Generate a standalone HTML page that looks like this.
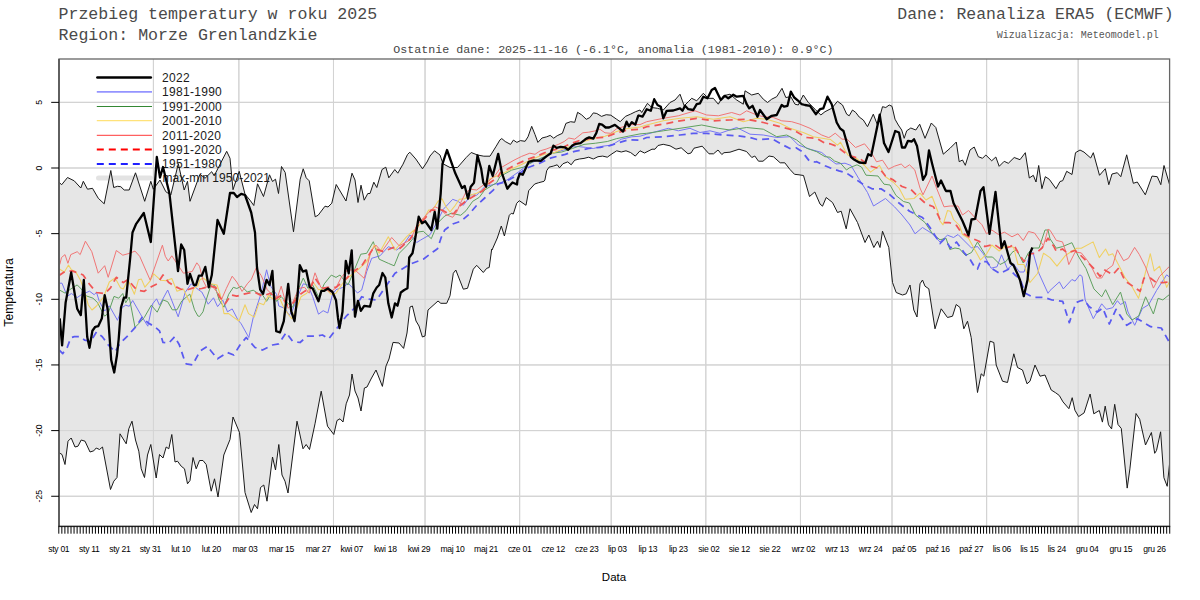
<!DOCTYPE html><html><head><meta charset="utf-8"><style>html,body{margin:0;padding:0;background:#fff;width:1200px;height:600px;overflow:hidden}svg{display:block}</style></head><body>
<svg width="1200" height="600" viewBox="0 0 1200 600">
<rect width="1200" height="600" fill="#fff"/>
<path d="M153.41 59.0V526.5M238.87 59.0V526.5M333.48 59.0V526.5M425.04 59.0V526.5M519.65 59.0V526.5M611.21 59.0V526.5M705.82 59.0V526.5M800.44 59.0V526.5M892.00 59.0V526.5M986.61 59.0V526.5M1078.17 59.0V526.5M59.0 496.25H1169.6M59.0 430.60H1169.6M59.0 364.95H1169.6M59.0 299.30H1169.6M59.0 233.65H1169.6M59.0 168.00H1169.6M59.0 102.35H1169.6" stroke="#d0d0d0" stroke-width="1" fill="none"/>
<defs><clipPath id="pc"><rect x="59" y="59" width="1110.6" height="467.5"/></clipPath></defs><g clip-path="url(#pc)">
<polygon points="59.0,182.5 59.2,182.5 61.7,184.7 67.5,177.5 74.2,180.8 80.8,188.0 83.3,181.3 87.5,189.2 92.5,188.3 98.3,198.3 104.2,203.8 110.8,170.5 113.7,187.5 117.5,186.3 120.8,186.7 124.2,190.0 129.2,190.0 135.5,172.8 144.7,201.3 150.8,181.3 153.3,189.2 160.0,180.0 165.8,191.7 170.8,195.0 178.3,163.7 184.2,190.0 187.5,181.3 190.0,201.3 200.0,174.2 205.0,178.3 211.7,171.7 214.2,175.8 226.7,151.3 230.0,158.3 233.0,189.7 239.2,171.3 245.0,194.2 250.0,200.2 253.8,205.5 257.5,183.8 263.5,196.5 269.5,174.8 272.5,181.5 275.5,179.2 278.5,193.5 281.5,166.5 285.2,172.5 293.5,231.8 300.2,179.2 303.2,168.8 306.2,177.8 309.2,180.8 315.2,216.8 318.2,215.2 325.0,206.2 328.0,207.0 331.8,203.2 336.2,184.5 346.0,201.0 352.0,173.2 355.0,180.0 358.0,202.5 361.0,185.2 364.2,200.2 367.8,193.5 370.0,193.5 373.8,182.2 376.8,187.5 382.0,169.5 385.8,167.2 388.8,177.8 394.8,169.5 397.8,173.2 403.0,164.2 407.5,154.5 409.8,152.2 415.8,159.0 422.5,168.8 427.0,162.0 430.0,156.0 434.5,150.8 440.0,155.0 443.0,163.8 450.0,167.5 457.5,167.5 466.2,157.5 471.2,152.5 477.5,155.0 483.8,156.2 490.0,156.2 496.2,146.2 500.0,139.8 501.8,138.6 505.2,141.5 510.5,144.4 513.4,140.1 516.9,142.4 520.4,140.6 525.1,141.3 528.0,136.8 531.7,126.3 535.0,134.5 537.9,142.4 542.0,138.0 546.7,136.8 550.2,135.4 553.7,138.2 557.2,135.7 562.4,133.3 565.9,123.4 570.6,121.7 574.7,122.3 577.6,112.3 581.7,114.9 586.3,119.3 589.8,117.6 593.3,112.9 596.8,113.5 601.5,116.4 606.2,114.7 610.8,115.2 616.7,119.3 620.2,121.7 625.4,116.4 630.7,114.1 635.3,111.8 640.0,110.0 641.7,112.5 647.5,103.3 651.7,107.5 657.5,108.3 663.3,110.0 670.0,102.5 675.0,100.0 680.0,94.2 684.2,105.8 688.3,101.7 691.7,98.3 696.7,100.8 703.3,93.3 708.3,98.3 713.3,98.3 718.3,104.2 723.3,95.8 730.0,94.2 736.7,100.0 743.3,104.2 745.0,90.8 751.7,95.0 758.3,93.3 763.3,99.2 767.5,102.5 771.7,99.2 776.7,96.7 782.0,88.3 785.8,97.5 790.8,96.7 795.0,104.2 798.3,105.0 803.3,95.0 808.3,102.5 815.0,109.2 820.8,115.0 825.0,111.7 831.7,108.3 837.5,101.3 842.5,105.0 846.7,114.2 849.2,115.8 852.5,110.0 855.8,112.5 859.2,117.0 863.3,120.0 867.5,126.7 873.3,114.2 877.5,125.0 882.5,106.7 885.8,107.5 889.2,105.0 892.0,106.3 895.0,119.2 898.3,125.0 901.7,130.0 904.2,138.3 906.7,130.8 910.8,128.0 915.8,130.0 919.7,124.2 925.0,138.3 931.3,123.0 935.8,127.5 943.3,154.2 950.0,148.3 956.3,142.0 959.2,161.7 962.5,160.0 965.3,165.3 970.0,150.0 974.2,147.0 978.3,156.7 982.5,158.3 985.8,155.0 991.7,160.8 995.8,157.0 999.2,166.3 1004.2,161.3 1008.3,163.3 1014.2,157.5 1020.0,159.7 1025.3,152.7 1029.3,178.0 1033.3,175.3 1036.0,182.0 1038.7,165.5 1041.9,188.7 1045.3,176.7 1049.3,179.3 1056.0,188.7 1060.0,181.5 1062.7,180.7 1066.7,171.3 1072.0,174.5 1075.5,152.7 1080.0,150.0 1084.0,152.1 1090.7,158.0 1093.3,152.7 1099.5,175.3 1105.3,168.7 1108.8,184.7 1112.0,174.0 1117.3,172.7 1120.8,176.7 1126.7,154.8 1133.3,183.3 1137.3,182.0 1145.3,194.8 1152.0,176.1 1157.3,176.7 1160.8,184.7 1164.0,165.5 1169.6,184.7 1169.6,463.4 1167.2,486.3 1163.9,477.7 1160.6,431.8 1156.5,450.5 1154.7,453.3 1151.4,432.5 1145.5,445.0 1139.7,419.3 1136.0,413.5 1129.9,468.9 1127.2,488.1 1121.3,428.5 1118.0,424.5 1114.7,404.3 1111.6,428.9 1108.5,424.8 1105.2,406.1 1102.4,422.1 1099.3,410.5 1093.8,413.8 1090.1,394.0 1084.1,412.9 1078.6,416.6 1074.9,410.2 1072.2,397.7 1068.9,408.7 1063.0,401.9 1059.3,395.5 1055.7,392.8 1051.2,390.0 1045.0,375.0 1040.0,376.2 1035.0,365.0 1030.0,381.2 1027.0,383.8 1022.5,370.0 1017.5,367.5 1013.8,353.8 1007.5,382.5 1002.5,381.2 996.2,365.0 993.8,342.5 990.0,341.2 983.8,376.2 981.2,373.8 977.5,392.5 971.2,337.5 967.5,321.2 963.8,328.8 960.0,307.5 956.2,304.5 952.5,316.2 947.5,317.5 941.2,308.8 935.0,328.8 928.8,288.8 925.0,286.2 922.5,280.0 920.0,283.8 917.0,317.0 913.8,310.0 910.0,285.0 906.2,293.8 902.5,295.0 896.2,292.5 892.5,282.5 888.8,247.5 882.5,231.2 880.0,247.5 877.5,241.2 873.8,247.5 868.8,235.0 865.0,242.5 857.5,222.5 850.0,208.8 846.2,228.8 841.2,211.2 837.5,212.5 832.5,202.5 826.2,197.5 822.5,206.2 820.0,204.0 814.8,192.0 809.5,196.5 803.5,175.5 799.0,174.8 794.5,174.3 790.0,169.5 784.8,162.8 780.2,162.8 773.5,156.8 769.0,156.0 763.0,161.2 758.5,161.2 754.8,156.0 751.8,157.5 746.5,151.5 739.0,149.2 730.0,152.2 724.0,152.7 721.8,154.5 718.0,150.0 713.5,153.8 709.0,153.8 702.2,146.2 694.0,148.2 691.0,153.0 688.0,153.8 681.2,147.8 676.0,149.2 670.0,145.8 663.2,144.3 658.0,145.5 655.0,149.2 652.0,149.2 644.5,153.0 640.0,150.8 635.3,156.1 630.7,152.6 626.0,150.8 621.3,152.0 616.7,150.8 612.0,153.8 607.3,157.2 602.7,156.1 598.0,156.7 593.3,159.0 588.7,157.2 584.0,158.4 579.3,159.0 574.7,160.2 571.2,164.8 567.7,161.9 563.0,163.7 559.5,167.8 557.2,164.8 553.7,166.0 549.0,167.2 546.7,170.7 544.9,180.0 544.0,181.3 538.7,182.7 534.7,184.0 528.7,190.7 526.0,205.3 519.3,200.7 516.7,203.3 513.3,214.0 511.3,213.3 509.3,215.3 504.4,236.0 501.3,226.0 497.3,238.0 492.0,250.0 491.7,249.2 489.2,267.5 486.7,268.3 483.3,272.5 476.7,265.3 473.3,269.2 467.5,288.3 463.3,289.2 455.8,270.0 453.3,273.3 450.0,295.8 446.7,303.3 440.8,303.3 438.0,301.0 428.0,310.0 425.0,336.0 422.4,337.0 419.0,326.0 416.0,321.0 412.4,306.0 410.0,307.0 407.0,333.0 403.6,348.4 399.0,343.0 393.0,342.4 389.0,359.0 386.0,366.0 382.4,386.4 376.0,370.0 371.0,379.0 367.0,387.0 364.4,388.0 361.0,411.0 358.0,398.0 355.0,391.0 352.0,374.0 349.5,395.0 346.2,403.8 343.0,422.0 340.0,418.8 337.0,420.5 333.8,434.5 327.5,426.2 321.2,391.2 315.0,423.8 309.5,449.5 306.2,444.5 303.0,448.8 297.0,421.2 288.0,493.0 285.0,481.2 282.0,475.0 278.8,444.5 275.5,470.0 272.5,457.0 267.0,501.2 263.8,485.0 260.5,487.5 257.5,508.8 254.5,504.5 251.2,512.5 245.0,492.5 239.5,432.5 233.0,417.0 230.0,439.5 223.8,455.0 218.0,497.0 214.5,478.8 211.2,491.2 206.2,464.5 203.0,460.5 199.5,460.5 196.2,468.8 193.0,457.5 190.0,480.5 187.5,483.8 184.5,468.8 181.2,466.2 177.5,461.2 175.0,462.0 171.8,434.5 168.8,448.8 166.2,447.0 163.0,458.0 159.5,454.5 156.2,478.0 150.8,444.5 147.5,455.0 144.5,477.5 141.2,468.8 138.8,451.2 135.5,440.0 132.0,421.2 128.8,428.8 126.2,443.8 120.0,433.8 117.0,477.5 113.8,481.2 110.5,489.5 102.5,447.0 99.5,449.5 96.2,448.0 93.8,450.8 90.0,452.0 85.0,441.2 81.2,440.0 78.0,446.2 75.0,447.0 71.2,438.0 68.0,441.2 65.0,464.5 62.0,454.5 59.5,453.0 59.0,453.0" fill="#e6e6e6" stroke="none"/>
<path d="M153.41 59V526.5M238.87 59V526.5M333.48 59V526.5M425.04 59V526.5M519.65 59V526.5M611.21 59V526.5M705.82 59V526.5M800.44 59V526.5M892.00 59V526.5M986.61 59V526.5M1078.17 59V526.5M59 496.25H1169.6M59 430.60H1169.6M59 364.95H1169.6M59 299.30H1169.6M59 233.65H1169.6M59 168.00H1169.6M59 102.35H1169.6" stroke="#d3d3d3" stroke-width="1" fill="none"/>
</g>
<path d="M97.4 77.5H150.8" stroke="#000" stroke-width="2.6" stroke-linecap="round" fill="none"/>
<text x="162" y="81.8" font-family="Liberation Sans" font-size="12" letter-spacing="0.3" fill="#1a1a1a">2022</text>
<path d="M96.8 91.8H152" stroke="#9494ff" stroke-width="1.8" fill="none"/>
<text x="162" y="96.1" font-family="Liberation Sans" font-size="12" letter-spacing="0.3" fill="#1a1a1a">1981-1990</text>
<path d="M96.8 106.5H152" stroke="#338833" stroke-width="1.0" fill="none"/>
<text x="162" y="110.8" font-family="Liberation Sans" font-size="12" letter-spacing="0.3" fill="#1a1a1a">1991-2000</text>
<path d="M96.8 120.7H152" stroke="#ffe27a" stroke-width="1.3" fill="none"/>
<text x="162" y="125.0" font-family="Liberation Sans" font-size="12" letter-spacing="0.3" fill="#1a1a1a">2001-2010</text>
<path d="M96.8 135.35H152" stroke="#ff6060" stroke-width="1.1" fill="none"/>
<text x="162" y="139.7" font-family="Liberation Sans" font-size="12" letter-spacing="0.3" fill="#1a1a1a">2011-2020</text>
<path d="M96.8 149.5H152" stroke="#ff0000" stroke-width="2" stroke-dasharray="7 5" fill="none"/>
<text x="162" y="153.8" font-family="Liberation Sans" font-size="12" letter-spacing="0.3" fill="#1a1a1a">1991-2020</text>
<path d="M96.8 164.0H152" stroke="#2020ff" stroke-width="2" stroke-dasharray="7 5" fill="none"/>
<text x="162" y="168.3" font-family="Liberation Sans" font-size="12" letter-spacing="0.3" fill="#1a1a1a">1951-1980</text>
<path d="M98.5 178.1H150.5" stroke="#e3e3e3" stroke-width="5" stroke-linecap="round" fill="none"/>
<text x="162.5" y="182.4" font-family="Liberation Sans" font-size="12" letter-spacing="0.05" fill="#1a1a1a">max-min 1950-2021</text>
<g clip-path="url(#pc)">
<polyline points="59.0,182.5 59.2,182.5 61.7,184.7 67.5,177.5 74.2,180.8 80.8,188.0 83.3,181.3 87.5,189.2 92.5,188.3 98.3,198.3 104.2,203.8 110.8,170.5 113.7,187.5 117.5,186.3 120.8,186.7 124.2,190.0 129.2,190.0 135.5,172.8 144.7,201.3 150.8,181.3 153.3,189.2 160.0,180.0 165.8,191.7 170.8,195.0 178.3,163.7 184.2,190.0 187.5,181.3 190.0,201.3 200.0,174.2 205.0,178.3 211.7,171.7 214.2,175.8 226.7,151.3 230.0,158.3 233.0,189.7 239.2,171.3 245.0,194.2 250.0,200.2 253.8,205.5 257.5,183.8 263.5,196.5 269.5,174.8 272.5,181.5 275.5,179.2 278.5,193.5 281.5,166.5 285.2,172.5 293.5,231.8 300.2,179.2 303.2,168.8 306.2,177.8 309.2,180.8 315.2,216.8 318.2,215.2 325.0,206.2 328.0,207.0 331.8,203.2 336.2,184.5 346.0,201.0 352.0,173.2 355.0,180.0 358.0,202.5 361.0,185.2 364.2,200.2 367.8,193.5 370.0,193.5 373.8,182.2 376.8,187.5 382.0,169.5 385.8,167.2 388.8,177.8 394.8,169.5 397.8,173.2 403.0,164.2 407.5,154.5 409.8,152.2 415.8,159.0 422.5,168.8 427.0,162.0 430.0,156.0 434.5,150.8 440.0,155.0 443.0,163.8 450.0,167.5 457.5,167.5 466.2,157.5 471.2,152.5 477.5,155.0 483.8,156.2 490.0,156.2 496.2,146.2 500.0,139.8 501.8,138.6 505.2,141.5 510.5,144.4 513.4,140.1 516.9,142.4 520.4,140.6 525.1,141.3 528.0,136.8 531.7,126.3 535.0,134.5 537.9,142.4 542.0,138.0 546.7,136.8 550.2,135.4 553.7,138.2 557.2,135.7 562.4,133.3 565.9,123.4 570.6,121.7 574.7,122.3 577.6,112.3 581.7,114.9 586.3,119.3 589.8,117.6 593.3,112.9 596.8,113.5 601.5,116.4 606.2,114.7 610.8,115.2 616.7,119.3 620.2,121.7 625.4,116.4 630.7,114.1 635.3,111.8 640.0,110.0 641.7,112.5 647.5,103.3 651.7,107.5 657.5,108.3 663.3,110.0 670.0,102.5 675.0,100.0 680.0,94.2 684.2,105.8 688.3,101.7 691.7,98.3 696.7,100.8 703.3,93.3 708.3,98.3 713.3,98.3 718.3,104.2 723.3,95.8 730.0,94.2 736.7,100.0 743.3,104.2 745.0,90.8 751.7,95.0 758.3,93.3 763.3,99.2 767.5,102.5 771.7,99.2 776.7,96.7 782.0,88.3 785.8,97.5 790.8,96.7 795.0,104.2 798.3,105.0 803.3,95.0 808.3,102.5 815.0,109.2 820.8,115.0 825.0,111.7 831.7,108.3 837.5,101.3 842.5,105.0 846.7,114.2 849.2,115.8 852.5,110.0 855.8,112.5 859.2,117.0 863.3,120.0 867.5,126.7 873.3,114.2 877.5,125.0 882.5,106.7 885.8,107.5 889.2,105.0 892.0,106.3 895.0,119.2 898.3,125.0 901.7,130.0 904.2,138.3 906.7,130.8 910.8,128.0 915.8,130.0 919.7,124.2 925.0,138.3 931.3,123.0 935.8,127.5 943.3,154.2 950.0,148.3 956.3,142.0 959.2,161.7 962.5,160.0 965.3,165.3 970.0,150.0 974.2,147.0 978.3,156.7 982.5,158.3 985.8,155.0 991.7,160.8 995.8,157.0 999.2,166.3 1004.2,161.3 1008.3,163.3 1014.2,157.5 1020.0,159.7 1025.3,152.7 1029.3,178.0 1033.3,175.3 1036.0,182.0 1038.7,165.5 1041.9,188.7 1045.3,176.7 1049.3,179.3 1056.0,188.7 1060.0,181.5 1062.7,180.7 1066.7,171.3 1072.0,174.5 1075.5,152.7 1080.0,150.0 1084.0,152.1 1090.7,158.0 1093.3,152.7 1099.5,175.3 1105.3,168.7 1108.8,184.7 1112.0,174.0 1117.3,172.7 1120.8,176.7 1126.7,154.8 1133.3,183.3 1137.3,182.0 1145.3,194.8 1152.0,176.1 1157.3,176.7 1160.8,184.7 1164.0,165.5 1169.6,184.7" fill="none" stroke="#1a1a1a" stroke-width="1"/>
<polyline points="59.0,453.0 59.5,453.0 62.0,454.5 65.0,464.5 68.0,441.2 71.2,438.0 75.0,447.0 78.0,446.2 81.2,440.0 85.0,441.2 90.0,452.0 93.8,450.8 96.2,448.0 99.5,449.5 102.5,447.0 110.5,489.5 113.8,481.2 117.0,477.5 120.0,433.8 126.2,443.8 128.8,428.8 132.0,421.2 135.5,440.0 138.8,451.2 141.2,468.8 144.5,477.5 147.5,455.0 150.8,444.5 156.2,478.0 159.5,454.5 163.0,458.0 166.2,447.0 168.8,448.8 171.8,434.5 175.0,462.0 177.5,461.2 181.2,466.2 184.5,468.8 187.5,483.8 190.0,480.5 193.0,457.5 196.2,468.8 199.5,460.5 203.0,460.5 206.2,464.5 211.2,491.2 214.5,478.8 218.0,497.0 223.8,455.0 230.0,439.5 233.0,417.0 239.5,432.5 245.0,492.5 251.2,512.5 254.5,504.5 257.5,508.8 260.5,487.5 263.8,485.0 267.0,501.2 272.5,457.0 275.5,470.0 278.8,444.5 282.0,475.0 285.0,481.2 288.0,493.0 297.0,421.2 303.0,448.8 306.2,444.5 309.5,449.5 315.0,423.8 321.2,391.2 327.5,426.2 333.8,434.5 337.0,420.5 340.0,418.8 343.0,422.0 346.2,403.8 349.5,395.0 352.0,374.0 355.0,391.0 358.0,398.0 361.0,411.0 364.4,388.0 367.0,387.0 371.0,379.0 376.0,370.0 382.4,386.4 386.0,366.0 389.0,359.0 393.0,342.4 399.0,343.0 403.6,348.4 407.0,333.0 410.0,307.0 412.4,306.0 416.0,321.0 419.0,326.0 422.4,337.0 425.0,336.0 428.0,310.0 438.0,301.0 440.8,303.3 446.7,303.3 450.0,295.8 453.3,273.3 455.8,270.0 463.3,289.2 467.5,288.3 473.3,269.2 476.7,265.3 483.3,272.5 486.7,268.3 489.2,267.5 491.7,249.2 492.0,250.0 497.3,238.0 501.3,226.0 504.4,236.0 509.3,215.3 511.3,213.3 513.3,214.0 516.7,203.3 519.3,200.7 526.0,205.3 528.7,190.7 534.7,184.0 538.7,182.7 544.0,181.3 544.9,180.0 546.7,170.7 549.0,167.2 553.7,166.0 557.2,164.8 559.5,167.8 563.0,163.7 567.7,161.9 571.2,164.8 574.7,160.2 579.3,159.0 584.0,158.4 588.7,157.2 593.3,159.0 598.0,156.7 602.7,156.1 607.3,157.2 612.0,153.8 616.7,150.8 621.3,152.0 626.0,150.8 630.7,152.6 635.3,156.1 640.0,150.8 644.5,153.0 652.0,149.2 655.0,149.2 658.0,145.5 663.2,144.3 670.0,145.8 676.0,149.2 681.2,147.8 688.0,153.8 691.0,153.0 694.0,148.2 702.2,146.2 709.0,153.8 713.5,153.8 718.0,150.0 721.8,154.5 724.0,152.7 730.0,152.2 739.0,149.2 746.5,151.5 751.8,157.5 754.8,156.0 758.5,161.2 763.0,161.2 769.0,156.0 773.5,156.8 780.2,162.8 784.8,162.8 790.0,169.5 794.5,174.3 799.0,174.8 803.5,175.5 809.5,196.5 814.8,192.0 820.0,204.0 822.5,206.2 826.2,197.5 832.5,202.5 837.5,212.5 841.2,211.2 846.2,228.8 850.0,208.8 857.5,222.5 865.0,242.5 868.8,235.0 873.8,247.5 877.5,241.2 880.0,247.5 882.5,231.2 888.8,247.5 892.5,282.5 896.2,292.5 902.5,295.0 906.2,293.8 910.0,285.0 913.8,310.0 917.0,317.0 920.0,283.8 922.5,280.0 925.0,286.2 928.8,288.8 935.0,328.8 941.2,308.8 947.5,317.5 952.5,316.2 956.2,304.5 960.0,307.5 963.8,328.8 967.5,321.2 971.2,337.5 977.5,392.5 981.2,373.8 983.8,376.2 990.0,341.2 993.8,342.5 996.2,365.0 1002.5,381.2 1007.5,382.5 1013.8,353.8 1017.5,367.5 1022.5,370.0 1027.0,383.8 1030.0,381.2 1035.0,365.0 1040.0,376.2 1045.0,375.0 1051.2,390.0 1055.7,392.8 1059.3,395.5 1063.0,401.9 1068.9,408.7 1072.2,397.7 1074.9,410.2 1078.6,416.6 1084.1,412.9 1090.1,394.0 1093.8,413.8 1099.3,410.5 1102.4,422.1 1105.2,406.1 1108.5,424.8 1111.6,428.9 1114.7,404.3 1118.0,424.5 1121.3,428.5 1127.2,488.1 1129.9,468.9 1136.0,413.5 1139.7,419.3 1145.5,445.0 1151.4,432.5 1154.7,453.3 1156.5,450.5 1160.6,431.8 1163.9,477.7 1167.2,486.3 1169.6,463.4" fill="none" stroke="#1a1a1a" stroke-width="1"/>
<polyline points="59.5,282.5 59.8,283.2 62.0,283.2 67.3,296.4 71.4,293.5 77.2,297.6 81.3,294.7 89.5,291.2 94.2,294.7 96.5,292.3 99.4,301.7 104.7,311.0 109.3,305.8 117.5,320.3 122.2,307.5 125.7,305.2 129.2,306.3 132.7,300.5 142.0,316.8 147.8,326.2 152.5,304.0 156.6,298.8 159.5,305.2 167.7,290.0 178.2,316.8 185.2,292.3 191.2,283.8 198.8,290.0 201.8,292.0 208.2,304.2 213.5,297.8 217.6,306.6 222.8,300.2 227.5,311.8 232.2,308.9 238.0,320.0 241.2,323.8 248.8,337.5 253.2,317.7 260.8,294.3 266.6,269.8 270.7,286.2 276.5,294.3 278.8,306.0 284.7,308.3 289.3,315.3 292.8,309.5 298.7,294.3 303.3,283.8 308.0,285.0 312.7,296.7 318.5,314.2 323.2,310.7 327.8,313.0 332.5,294.3 336.0,289.7 342.5,287.5 348.3,283.3 357.5,293.0 361.7,290.0 366.7,271.7 371.7,258.3 380.0,255.8 388.3,246.7 396.7,250.0 403.3,245.0 410.0,235.0 416.7,242.5 420.7,240.0 430.0,234.7 436.7,222.7 443.3,209.3 452.7,199.3 458.0,201.3 463.3,205.3 471.3,194.7 476.7,195.3 484.7,186.7 492.7,184.7 500.7,182.7 507.0,180.0 518.7,171.8 529.2,163.7 540.8,159.0 552.5,153.2 563.0,150.2 574.7,146.2 585.2,147.3 593.3,148.5 602.7,146.2 612.0,145.0 621.3,139.2 631.8,136.8 640.0,136.2 646.7,134.2 668.3,128.3 678.3,130.8 690.0,128.3 700.0,132.5 710.0,130.8 720.0,133.3 736.7,127.5 750.0,134.2 763.3,135.0 776.7,137.5 790.0,136.7 798.3,145.0 810.0,149.2 821.7,152.5 826.7,156.7 830.0,159.5 836.0,164.0 845.0,163.2 851.0,165.5 858.5,178.2 867.5,192.5 873.5,206.0 885.5,198.5 894.5,206.8 902.0,215.0 910.0,225.0 915.0,233.8 922.5,227.5 932.5,233.8 940.0,242.0 947.5,235.2 953.5,237.5 958.0,234.5 965.5,242.0 971.5,248.0 977.5,246.5 983.5,254.0 991.0,268.2 997.0,266.8 1001.5,254.8 1007.5,269.0 1013.5,263.8 1019.5,272.0 1024.0,272.0 1030.0,254.0 1033.0,252.5 1039.0,273.5 1048.0,293.3 1050.0,290.5 1059.4,281.9 1063.3,288.9 1071.9,279.5 1075.1,281.1 1079.8,274.8 1082.1,276.4 1085.2,299.9 1093.3,318.7 1101.7,303.8 1106.4,309.3 1112.7,307.7 1117.4,300.7 1120.5,304.6 1125.2,301.5 1128.0,312.0 1134.7,325.3 1142.4,308.5 1148.7,304.6 1156.5,290.5 1166.7,274.8 1169.6,277.2" fill="none" stroke="#7676f4" stroke-width="1.0" stroke-linejoin="round"/>
<polyline points="59.5,290.0 59.8,290.2 65.0,293.1 70.8,289.0 77.2,284.9 81.3,289.0 86.0,295.8 93.0,298.2 97.7,302.8 102.3,312.2 104.7,316.2 108.2,313.3 114.0,296.4 118.7,298.2 122.8,293.5 125.7,302.8 129.2,297.0 135.0,327.3 139.7,322.7 144.3,317.4 151.3,305.2 157.2,312.2 163.0,299.9 167.7,301.7 172.3,309.8 177.0,309.8 181.7,301.1 189.8,294.1 194.5,309.8 198.0,316.2 198.8,316.2 199.5,316.5 203.0,311.8 206.5,299.0 211.2,284.4 214.7,285.6 219.3,300.2 224.0,307.2 228.7,294.3 233.3,287.3 236.8,288.5 241.5,286.2 247.3,292.0 253.2,290.2 257.8,293.2 262.5,294.9 266.6,301.3 273.0,290.8 276.5,301.3 281.2,296.7 287.0,302.5 292.8,307.2 298.7,288.5 303.3,278.0 308.0,288.5 312.7,285.0 318.5,296.7 324.3,283.8 331.3,275.1 336.0,277.4 340.0,275.0 348.0,285.0 355.0,268.3 360.8,254.2 366.7,253.3 373.3,241.7 379.2,259.2 388.3,263.3 394.2,265.8 399.2,253.3 406.7,245.8 413.3,238.3 418.0,232.0 423.3,231.3 431.3,238.7 438.0,222.7 444.7,216.0 451.3,213.3 460.7,215.3 466.0,210.7 472.7,201.3 479.3,197.3 484.7,190.0 490.0,186.7 496.7,182.7 500.0,176.5 511.7,170.1 523.3,167.2 533.8,161.3 544.3,156.7 552.5,153.2 561.8,152.0 572.3,148.5 584.0,144.4 595.7,143.2 607.3,141.5 616.7,138.6 628.3,136.2 640.0,133.9 646.7,133.3 663.3,130.8 680.0,128.3 701.7,125.0 718.3,128.3 730.0,130.0 746.7,127.5 763.3,129.2 776.7,136.7 786.7,135.0 796.7,140.0 806.7,148.3 816.7,151.7 825.0,156.7 830.0,157.2 834.5,161.0 840.5,163.2 846.5,170.0 849.5,167.8 857.0,164.8 861.5,167.0 866.0,175.2 878.0,176.0 884.0,184.2 890.0,185.0 896.0,195.5 903.5,201.5 909.5,203.0 915.5,215.0 925.0,222.5 932.5,233.8 940.0,239.8 946.0,238.2 949.8,249.5 955.0,248.0 959.5,248.8 965.5,255.5 971.5,252.5 977.5,242.0 982.0,249.5 986.5,257.0 992.5,257.0 1000.0,264.5 1006.0,261.5 1012.0,252.5 1016.5,249.5 1023.2,263.0 1028.5,252.5 1033.0,248.0 1039.0,248.0 1045.0,230.0 1048.0,230.0 1050.0,238.8 1056.3,248.2 1062.5,246.6 1071.9,242.7 1078.2,256.0 1086.0,268.6 1093.9,288.9 1101.7,296.8 1105.6,289.7 1112.7,304.6 1120.5,292.1 1126.8,314.0 1132.0,320.0 1138.7,316.0 1145.6,296.8 1153.4,314.0 1158.1,298.3 1162.8,299.9 1169.6,294.4" fill="none" stroke="#5fa05f" stroke-width="1.0" stroke-linejoin="round"/>
<polyline points="59.5,270.0 59.8,269.2 64.4,272.1 68.5,265.1 71.4,269.8 75.5,271.5 80.8,280.8 84.8,292.5 88.3,305.0 92.0,310.0 96.5,306.0 103.5,297.2 109.3,282.0 115.2,277.9 120.4,287.8 123.3,289.0 128.0,279.7 134.4,294.2 138.5,279.7 141.4,279.1 144.9,287.2 150.2,280.8 153.7,273.8 160.7,280.2 165.9,280.8 171.8,278.5 177.0,291.3 183.4,289.0 189.8,302.4 193.3,289.0 198.0,285.5 199.5,280.3 203.0,278.0 211.2,283.8 217.0,285.0 220.5,295.5 224.0,313.6 228.7,313.6 235.7,318.8 239.0,321.0 245.0,304.8 248.5,313.6 254.3,317.1 259.0,303.1 263.7,304.8 268.3,295.5 273.0,299.0 280.0,299.0 284.7,309.5 291.7,318.8 297.5,306.0 301.0,296.7 306.8,293.2 312.7,281.5 318.5,289.7 325.5,288.5 331.3,294.3 336.0,293.2 345.0,280.0 356.7,270.8 366.7,261.7 374.2,245.0 379.2,253.3 388.3,236.7 395.0,250.0 406.7,236.7 414.2,230.0 415.0,232.5 418.0,226.7 424.7,217.3 428.7,210.0 432.7,210.0 438.0,201.3 442.0,198.7 446.0,206.7 450.0,212.0 455.3,205.3 459.3,199.3 464.7,198.7 471.3,194.7 476.7,193.3 484.7,189.3 490.0,178.7 496.7,176.0 500.0,174.8 509.3,170.1 521.0,164.8 533.8,158.4 544.3,154.3 552.5,153.2 563.0,149.1 574.7,145.0 584.0,141.5 593.3,138.6 605.0,136.2 616.7,131.6 626.0,128.7 640.0,126.9 646.7,125.0 663.3,120.8 680.0,118.3 696.7,116.7 713.3,119.2 730.0,116.7 743.3,121.7 756.7,118.3 766.7,119.2 780.0,123.3 790.0,128.3 803.3,132.5 813.3,136.7 828.3,139.2 830.0,139.2 837.5,145.2 840.5,142.2 845.0,150.5 848.0,155.0 857.0,158.8 864.5,165.5 870.5,172.2 879.5,165.5 885.5,176.8 893.0,182.0 899.0,188.0 905.0,199.2 914.0,198.5 920.0,193.2 926.0,200.0 932.0,196.2 938.0,212.0 940.0,221.0 943.0,224.8 947.5,210.5 950.0,211.2 950.5,211.2 953.5,219.5 959.5,225.5 962.5,234.5 968.5,238.2 973.0,246.5 980.5,260.0 986.5,254.0 991.8,245.0 999.2,251.0 1006.0,245.8 1013.5,247.2 1018.0,264.5 1024.0,264.5 1030.0,282.5 1037.5,273.5 1043.5,253.2 1050.0,257.6 1057.0,266.2 1065.7,255.2 1076.6,248.2 1081.3,248.2 1093.1,241.9 1099.3,257.6 1105.6,249.0 1108.7,255.2 1112.7,253.7 1118.9,265.4 1125.2,278.0 1131.5,285.8 1138.5,298.3 1144.0,278.0 1150.3,253.7 1154.2,270.9 1159.6,266.2 1166.7,287.4 1169.6,281.1" fill="none" stroke="#f0d060" stroke-width="1.05" stroke-linejoin="round"/>
<polyline points="59.8,264.5 61.5,257.5 65.0,254.6 67.9,263.3 70.8,254.6 77.2,251.7 80.2,254.6 85.4,241.2 91.8,251.7 98.2,273.2 104.7,265.7 108.2,277.3 116.3,250.5 122.8,255.2 129.2,253.4 135.0,251.1 139.7,256.3 150.2,280.2 162.4,245.2 165.3,256.3 168.2,261.0 171.8,255.8 183.4,273.2 192.2,271.5 196.8,262.8 199.5,266.3 203.0,280.3 206.5,287.3 211.2,285.0 217.0,292.0 221.7,299.0 226.3,288.5 232.2,276.2 236.8,282.1 242.1,291.4 247.3,283.8 251.4,279.2 256.1,268.1 261.3,275.7 267.2,289.7 273.0,295.5 277.7,296.7 281.2,286.2 284.7,299.0 288.2,308.3 292.2,303.7 298.7,288.5 304.5,287.3 309.2,293.2 315.0,272.8 320.8,287.3 324.3,288.5 330.2,292.0 336.0,287.9 341.2,277.5 347.5,270.0 355.0,270.0 364.2,278.3 370.8,251.7 375.8,245.0 381.7,251.7 391.7,237.5 399.2,245.8 410.0,240.0 415.0,230.0 416.7,225.3 423.3,218.0 428.7,212.7 434.7,206.7 440.7,209.3 446.0,214.7 452.7,217.3 456.7,212.0 460.7,202.7 466.0,192.0 471.3,189.3 476.7,190.0 482.0,186.0 486.0,183.3 490.0,180.0 495.3,175.3 500.0,168.3 507.0,164.2 514.0,160.2 521.6,156.4 529.8,153.2 535.0,154.3 540.2,150.8 546.1,149.1 551.3,147.1 558.3,144.4 564.2,141.5 568.8,138.0 574.7,139.2 582.8,132.8 588.7,132.2 594.5,131.0 599.8,129.2 605.0,132.8 610.8,133.3 616.7,128.7 624.8,126.3 631.8,124.6 640.0,124.6 646.7,121.7 663.3,118.3 678.3,115.8 695.0,110.8 706.7,115.0 718.3,115.8 731.7,112.5 740.0,115.0 746.7,110.8 756.7,115.0 763.3,116.7 773.3,117.5 781.7,120.8 791.7,121.7 800.0,124.2 810.0,128.3 821.7,135.0 828.3,137.5 830.0,137.0 835.2,133.2 842.0,139.2 847.2,139.2 855.5,147.5 864.5,143.8 870.5,151.2 876.5,161.8 882.5,160.2 888.5,169.2 894.5,166.2 901.2,164.0 905.0,167.8 909.5,164.8 914.8,170.0 920.0,188.0 923.0,194.8 932.0,176.0 936.5,188.0 944.0,206.8 950.0,206.0 950.5,206.0 958.0,206.0 962.5,215.0 968.5,210.5 976.0,218.8 982.0,224.8 986.5,233.8 991.8,230.0 998.5,234.5 1004.5,232.2 1012.0,236.8 1018.0,233.8 1023.2,240.5 1028.5,231.5 1034.5,233.0 1039.8,240.5 1043.5,245.8 1048.0,229.2 1050.0,230.2 1056.3,240.4 1062.5,241.9 1065.7,251.3 1068.8,264.6 1075.1,252.1 1081.3,252.9 1087.6,260.7 1092.3,268.6 1097.0,278.0 1101.7,278.0 1106.4,270.1 1112.7,265.4 1117.4,249.8 1123.6,260.7 1128.3,258.4 1134.6,247.4 1139.3,254.5 1145.6,267.0 1153.4,288.1 1159.6,276.4 1169.6,266.2" fill="none" stroke="#f07575" stroke-width="1.0" stroke-linejoin="round"/>
<polyline points="59.5,273.8 59.8,275.0 65.0,271.5 72.0,270.9 79.0,273.2 83.1,275.0 89.5,284.3 96.5,292.5 104.7,293.7 110.5,287.8 116.3,277.3 123.3,282.6 128.0,279.7 133.8,286.7 137.3,290.2 144.3,291.3 151.3,286.7 157.2,283.8 163.0,275.0 168.8,282.6 175.8,286.7 180.5,289.0 186.3,290.2 193.3,287.8 198.0,289.0 201.8,288.5 210.0,286.2 215.8,287.3 219.3,296.7 225.2,303.7 231.0,294.9 236.8,296.1 245.0,293.8 254.3,292.0 262.5,296.1 270.7,293.2 275.3,299.0 281.2,295.5 287.0,304.8 292.8,303.7 298.7,295.5 304.5,291.4 310.3,288.5 315.0,278.0 322.0,288.5 327.8,287.3 336.0,287.3 337.5,286.2 347.5,277.5 350.0,274.0 361.7,265.8 373.3,248.3 383.3,251.7 393.3,247.5 400.0,248.3 410.0,239.2 415.0,231.7 416.7,226.7 424.7,218.7 431.3,210.0 442.0,210.0 448.7,214.0 454.0,213.3 460.7,205.3 467.3,200.0 475.3,195.3 482.0,191.3 490.0,182.7 498.0,177.3 500.0,173.0 507.0,169.5 517.5,163.7 526.8,159.6 538.5,155.5 549.0,150.8 560.7,148.5 570.0,143.8 581.7,139.8 593.3,138.0 605.0,137.4 615.5,133.3 626.0,130.4 640.0,129.2 646.7,126.7 663.3,124.2 680.0,120.8 696.7,118.3 713.3,120.8 730.0,120.0 746.7,119.2 763.3,122.5 780.0,126.7 793.3,130.0 806.7,137.5 816.7,138.3 825.0,143.3 830.0,143.8 836.0,146.0 842.0,150.5 848.0,155.0 860.0,158.8 870.5,166.2 879.5,168.5 885.5,176.0 893.0,179.8 902.0,186.5 911.0,189.5 918.5,197.0 926.0,203.8 933.5,206.8 938.0,215.0 940.0,219.5 944.5,222.5 949.0,222.5 956.5,225.5 961.0,232.2 970.0,237.5 979.0,241.2 985.0,246.5 994.0,244.2 1001.5,249.5 1010.5,246.5 1013.5,244.2 1018.0,252.5 1024.0,261.5 1030.0,254.0 1036.0,253.2 1042.0,248.0 1048.0,238.2 1053.9,246.6 1056.3,251.3 1062.5,249.0 1067.2,252.9 1075.1,250.5 1080.5,255.2 1087.6,262.3 1093.9,268.6 1100.1,276.4 1104.8,270.1 1112.7,274.8 1118.9,267.8 1125.2,281.1 1134.6,287.4 1140.1,291.3 1144.0,278.0 1150.3,278.0 1156.5,282.7 1162.8,282.7 1169.6,281.9" fill="none" stroke="#f05555" stroke-width="1.75" stroke-dasharray="7 5" stroke-linejoin="round"/>
<polyline points="59.5,350.0 59.8,350.7 62.7,353.6 67.3,347.2 70.8,337.8 74.3,336.7 80.2,336.7 84.8,340.2 90.7,341.3 96.5,332.0 102.3,336.7 108.2,344.8 115.2,351.8 119.8,343.7 128.0,335.5 137.3,325.0 142.0,317.4 147.8,322.7 154.8,326.8 159.5,330.8 163.0,342.5 168.8,343.1 174.7,336.7 179.3,344.8 184.0,358.8 186.2,363.8 192.5,365.0 200.0,351.2 207.5,346.2 211.2,351.2 217.5,358.8 227.5,352.5 233.8,355.0 240.0,345.0 246.2,337.5 255.0,347.5 262.5,350.0 272.5,345.0 278.8,343.8 286.2,332.5 292.5,341.2 300.0,342.5 307.5,336.2 316.2,336.2 322.5,335.0 328.8,338.8 337.5,327.5 346.2,316.2 355.0,307.5 361.7,296.7 368.3,299.2 376.7,300.0 383.3,290.0 395.0,273.3 410.0,264.2 423.3,259.2 433.3,251.7 437.5,248.8 441.3,237.3 444.7,230.0 452.7,224.0 460.7,221.3 468.7,214.7 476.7,205.3 484.7,198.0 492.7,190.7 496.7,186.0 498.0,184.0 502.7,182.7 510.0,179.3 514.7,176.7 522.7,171.3 523.3,169.5 539.7,163.1 551.3,157.8 565.3,154.3 574.7,151.4 588.7,148.5 600.3,147.3 609.7,145.6 619.0,142.7 628.3,139.8 640.0,140.3 646.7,137.5 663.3,136.7 680.0,135.0 693.3,133.3 706.7,133.3 723.3,135.0 738.3,135.8 750.0,137.5 757.0,139.5 772.0,138.8 781.0,144.0 790.0,148.5 796.0,147.8 802.0,151.5 809.5,161.2 815.5,162.0 816.7,161.7 825.0,165.8 830.0,167.8 839.0,170.8 846.5,173.0 854.0,178.2 863.0,184.2 872.0,188.8 881.0,188.8 890.0,194.8 899.0,203.0 909.5,211.2 914.0,213.5 922.5,217.5 930.0,227.5 940.0,243.5 944.5,239.0 950.5,248.0 956.5,242.0 964.0,252.5 970.0,259.2 974.5,266.8 977.5,269.0 980.5,261.5 986.5,261.5 992.5,269.0 1000.0,273.5 1009.0,269.0 1015.0,275.0 1020.0,278.8 1025.3,293.3 1033.3,297.3 1044.0,297.3 1052.0,300.0 1062.7,301.3 1069.3,322.7 1076.0,302.7 1080.0,301.0 1084.0,300.0 1089.3,306.7 1097.3,312.0 1102.7,308.0 1109.3,324.0 1116.0,309.3 1126.7,325.3 1137.3,318.7 1150.7,326.7 1161.3,328.0 1169.6,342.7" fill="none" stroke="#5a5af0" stroke-width="1.75" stroke-dasharray="7 5" stroke-linejoin="round"/>
<polyline points="59.5,318.8 59.8,319.2 62.1,345.4 65.6,302.8 71.2,272.5 77.2,308.7 80.8,315.1 83.8,280.0 87.2,336.7 89.5,347.8 92.4,330.8 95.3,326.8 98.2,326.2 101.8,318.6 104.7,295.2 107.6,308.7 111.2,360.0 114.2,372.5 117.0,355.0 118.7,339.0 121.0,307.5 123.9,297.6 126.2,297.6 130.0,260.0 132.5,232.5 136.2,223.8 143.8,213.0 150.8,242.0 156.8,157.0 160.0,177.5 163.0,167.0 169.5,193.8 178.0,271.2 181.2,244.5 184.2,250.0 187.5,283.8 190.0,273.8 193.8,285.0 196.0,285.0 198.9,275.7 201.8,275.7 205.3,266.9 208.8,287.3 211.8,275.1 217.5,220.0 223.8,233.8 230.0,193.0 233.8,193.0 237.0,197.0 241.2,193.8 245.0,195.0 251.2,212.5 255.0,232.5 257.0,267.5 260.2,289.7 263.1,293.8 266.6,279.8 269.5,285.0 272.4,271.0 276.2,331.2 280.0,332.5 283.8,321.2 288.2,283.8 291.2,311.2 294.5,321.2 297.5,296.2 299.8,265.2 302.8,271.6 306.2,270.4 309.8,287.3 312.7,288.5 318.5,301.3 321.4,290.8 324.3,290.8 327.8,288.5 332.5,292.0 336.0,300.2 338.0,318.0 339.5,328.0 342.5,311.7 345.8,260.8 348.7,273.3 351.7,250.3 355.0,316.7 358.0,300.8 360.8,310.8 364.2,305.8 370.0,306.7 373.3,293.3 376.7,287.5 379.2,285.0 382.5,273.0 385.3,277.5 388.3,303.3 391.7,317.5 395.0,303.3 397.5,305.8 400.8,292.5 404.2,290.0 407.5,288.3 409.2,257.5 412.5,253.3 414.7,241.7 418.7,216.7 422.0,223.3 425.3,221.3 431.3,230.0 434.7,212.0 437.3,228.7 440.7,193.3 442.5,163.8 447.0,150.0 455.3,173.3 462.0,188.0 464.7,186.0 468.0,198.7 470.7,186.7 474.0,182.7 477.5,155.5 481.2,168.8 483.3,182.7 486.0,186.7 489.3,166.0 492.7,176.0 498.2,153.8 502.0,173.3 507.3,188.7 510.0,185.3 512.5,182.5 517.0,184.5 517.5,180.0 519.8,173.6 522.8,174.8 528.6,161.9 533.8,160.4 540.8,160.8 546.7,156.1 550.8,153.2 553.4,145.6 556.6,147.9 560.7,146.8 564.8,147.3 568.2,149.7 572.3,145.6 575.8,143.8 580.5,143.2 586.3,138.6 589.2,137.4 593.3,138.6 596.2,133.3 599.2,124.0 602.1,124.6 605.6,127.5 609.1,127.5 614.9,124.9 619.0,128.1 623.1,131.6 626.6,121.7 628.9,126.3 631.8,122.2 635.3,124.6 638.2,115.8 638.8,115.5 642.5,116.7 646.7,109.2 650.8,110.8 654.2,99.2 657.5,105.0 660.8,106.7 663.3,118.3 666.7,110.8 673.3,110.5 680.0,108.3 682.5,110.8 685.0,105.8 688.3,109.2 693.3,110.0 696.7,104.2 700.0,103.3 703.3,96.7 707.5,98.3 711.7,90.0 715.0,88.0 717.5,93.3 720.8,100.0 725.0,95.8 728.3,98.3 733.3,94.7 736.7,96.7 743.3,95.8 746.7,104.2 749.2,108.3 752.5,105.8 757.5,116.7 760.0,110.0 766.7,119.2 771.7,115.8 776.7,115.0 781.7,105.0 784.2,106.7 787.5,105.8 790.8,91.7 794.2,97.5 798.3,100.8 801.7,104.2 805.0,105.0 810.0,105.8 815.8,114.2 820.0,109.2 823.3,108.3 827.5,96.7 831.7,104.2 836.7,122.5 840.0,128.3 843.5,131.0 851.0,157.2 854.0,159.5 859.2,162.5 865.2,163.2 868.2,154.2 871.2,155.8 879.7,114.7 884.0,143.0 888.5,152.0 895.2,131.0 899.0,132.5 902.0,147.5 905.0,147.5 908.0,140.8 911.8,141.5 914.0,139.2 917.0,146.0 923.0,179.8 926.0,174.5 929.0,150.5 932.0,163.2 938.0,186.5 941.0,180.5 945.5,190.2 946.0,191.0 950.5,191.0 953.5,203.0 962.5,221.0 968.5,235.2 971.5,219.5 975.2,218.8 980.5,191.0 983.5,187.2 989.5,233.8 995.5,191.8 1001.5,248.0 1004.5,241.2 1010.5,263.0 1013.5,265.2 1018.0,275.0 1020.0,280.0 1023.8,296.2 1027.5,280.0 1030.0,253.2 1032.2,248.0 1032.5,247.5" fill="none" stroke="#000" stroke-width="2.3" stroke-linejoin="round"/>
</g>
<rect x="59.0" y="59.0" width="1110.6" height="467.5" fill="none" stroke="#666" stroke-width="1.3"/>
<path d="M59.0 59.0V526.5" stroke="#555" stroke-width="1.7" fill="none"/>
<path d="M58.4 526.25H1170.1999999999998" stroke="#111" stroke-width="1.1" fill="none"/>
<path d="M58.80 526.5V533.7M61.85 526.5V533.7M64.90 526.5V533.7M67.96 526.5V533.7M71.01 526.5V533.7M74.06 526.5V533.7M77.11 526.5V533.7M80.16 526.5V533.7M83.22 526.5V533.7M86.27 526.5V533.7M89.32 526.5V533.7M92.37 526.5V533.7M95.42 526.5V533.7M98.48 526.5V533.7M101.53 526.5V533.7M104.58 526.5V533.7M107.63 526.5V533.7M110.68 526.5V533.7M113.74 526.5V533.7M116.79 526.5V533.7M119.84 526.5V533.7M122.89 526.5V533.7M125.94 526.5V533.7M129.00 526.5V533.7M132.05 526.5V533.7M135.10 526.5V533.7M138.15 526.5V533.7M141.20 526.5V533.7M144.26 526.5V533.7M147.31 526.5V533.7M150.36 526.5V533.7M153.41 526.5V533.7M156.46 526.5V533.7M159.52 526.5V533.7M162.57 526.5V533.7M165.62 526.5V533.7M168.67 526.5V533.7M171.72 526.5V533.7M174.78 526.5V533.7M177.83 526.5V533.7M180.88 526.5V533.7M183.93 526.5V533.7M186.98 526.5V533.7M190.04 526.5V533.7M193.09 526.5V533.7M196.14 526.5V533.7M199.19 526.5V533.7M202.24 526.5V533.7M205.30 526.5V533.7M208.35 526.5V533.7M211.40 526.5V533.7M214.45 526.5V533.7M217.50 526.5V533.7M220.56 526.5V533.7M223.61 526.5V533.7M226.66 526.5V533.7M229.71 526.5V533.7M232.76 526.5V533.7M235.82 526.5V533.7M238.87 526.5V533.7M241.92 526.5V533.7M244.97 526.5V533.7M248.02 526.5V533.7M251.08 526.5V533.7M254.13 526.5V533.7M257.18 526.5V533.7M260.23 526.5V533.7M263.28 526.5V533.7M266.34 526.5V533.7M269.39 526.5V533.7M272.44 526.5V533.7M275.49 526.5V533.7M278.54 526.5V533.7M281.60 526.5V533.7M284.65 526.5V533.7M287.70 526.5V533.7M290.75 526.5V533.7M293.80 526.5V533.7M296.86 526.5V533.7M299.91 526.5V533.7M302.96 526.5V533.7M306.01 526.5V533.7M309.06 526.5V533.7M312.12 526.5V533.7M315.17 526.5V533.7M318.22 526.5V533.7M321.27 526.5V533.7M324.32 526.5V533.7M327.38 526.5V533.7M330.43 526.5V533.7M333.48 526.5V533.7M336.53 526.5V533.7M339.58 526.5V533.7M342.64 526.5V533.7M345.69 526.5V533.7M348.74 526.5V533.7M351.79 526.5V533.7M354.84 526.5V533.7M357.90 526.5V533.7M360.95 526.5V533.7M364.00 526.5V533.7M367.05 526.5V533.7M370.10 526.5V533.7M373.16 526.5V533.7M376.21 526.5V533.7M379.26 526.5V533.7M382.31 526.5V533.7M385.36 526.5V533.7M388.42 526.5V533.7M391.47 526.5V533.7M394.52 526.5V533.7M397.57 526.5V533.7M400.62 526.5V533.7M403.68 526.5V533.7M406.73 526.5V533.7M409.78 526.5V533.7M412.83 526.5V533.7M415.88 526.5V533.7M418.94 526.5V533.7M421.99 526.5V533.7M425.04 526.5V533.7M428.09 526.5V533.7M431.14 526.5V533.7M434.20 526.5V533.7M437.25 526.5V533.7M440.30 526.5V533.7M443.35 526.5V533.7M446.40 526.5V533.7M449.46 526.5V533.7M452.51 526.5V533.7M455.56 526.5V533.7M458.61 526.5V533.7M461.66 526.5V533.7M464.72 526.5V533.7M467.77 526.5V533.7M470.82 526.5V533.7M473.87 526.5V533.7M476.92 526.5V533.7M479.98 526.5V533.7M483.03 526.5V533.7M486.08 526.5V533.7M489.13 526.5V533.7M492.18 526.5V533.7M495.24 526.5V533.7M498.29 526.5V533.7M501.34 526.5V533.7M504.39 526.5V533.7M507.44 526.5V533.7M510.50 526.5V533.7M513.55 526.5V533.7M516.60 526.5V533.7M519.65 526.5V533.7M522.70 526.5V533.7M525.76 526.5V533.7M528.81 526.5V533.7M531.86 526.5V533.7M534.91 526.5V533.7M537.96 526.5V533.7M541.02 526.5V533.7M544.07 526.5V533.7M547.12 526.5V533.7M550.17 526.5V533.7M553.22 526.5V533.7M556.28 526.5V533.7M559.33 526.5V533.7M562.38 526.5V533.7M565.43 526.5V533.7M568.48 526.5V533.7M571.54 526.5V533.7M574.59 526.5V533.7M577.64 526.5V533.7M580.69 526.5V533.7M583.74 526.5V533.7M586.80 526.5V533.7M589.85 526.5V533.7M592.90 526.5V533.7M595.95 526.5V533.7M599.00 526.5V533.7M602.06 526.5V533.7M605.11 526.5V533.7M608.16 526.5V533.7M611.21 526.5V533.7M614.26 526.5V533.7M617.32 526.5V533.7M620.37 526.5V533.7M623.42 526.5V533.7M626.47 526.5V533.7M629.52 526.5V533.7M632.58 526.5V533.7M635.63 526.5V533.7M638.68 526.5V533.7M641.73 526.5V533.7M644.78 526.5V533.7M647.84 526.5V533.7M650.89 526.5V533.7M653.94 526.5V533.7M656.99 526.5V533.7M660.04 526.5V533.7M663.10 526.5V533.7M666.15 526.5V533.7M669.20 526.5V533.7M672.25 526.5V533.7M675.30 526.5V533.7M678.36 526.5V533.7M681.41 526.5V533.7M684.46 526.5V533.7M687.51 526.5V533.7M690.56 526.5V533.7M693.62 526.5V533.7M696.67 526.5V533.7M699.72 526.5V533.7M702.77 526.5V533.7M705.82 526.5V533.7M708.88 526.5V533.7M711.93 526.5V533.7M714.98 526.5V533.7M718.03 526.5V533.7M721.08 526.5V533.7M724.14 526.5V533.7M727.19 526.5V533.7M730.24 526.5V533.7M733.29 526.5V533.7M736.34 526.5V533.7M739.40 526.5V533.7M742.45 526.5V533.7M745.50 526.5V533.7M748.55 526.5V533.7M751.60 526.5V533.7M754.66 526.5V533.7M757.71 526.5V533.7M760.76 526.5V533.7M763.81 526.5V533.7M766.86 526.5V533.7M769.92 526.5V533.7M772.97 526.5V533.7M776.02 526.5V533.7M779.07 526.5V533.7M782.12 526.5V533.7M785.18 526.5V533.7M788.23 526.5V533.7M791.28 526.5V533.7M794.33 526.5V533.7M797.38 526.5V533.7M800.44 526.5V533.7M803.49 526.5V533.7M806.54 526.5V533.7M809.59 526.5V533.7M812.64 526.5V533.7M815.70 526.5V533.7M818.75 526.5V533.7M821.80 526.5V533.7M824.85 526.5V533.7M827.90 526.5V533.7M830.96 526.5V533.7M834.01 526.5V533.7M837.06 526.5V533.7M840.11 526.5V533.7M843.16 526.5V533.7M846.22 526.5V533.7M849.27 526.5V533.7M852.32 526.5V533.7M855.37 526.5V533.7M858.42 526.5V533.7M861.48 526.5V533.7M864.53 526.5V533.7M867.58 526.5V533.7M870.63 526.5V533.7M873.68 526.5V533.7M876.74 526.5V533.7M879.79 526.5V533.7M882.84 526.5V533.7M885.89 526.5V533.7M888.94 526.5V533.7M892.00 526.5V533.7M895.05 526.5V533.7M898.10 526.5V533.7M901.15 526.5V533.7M904.20 526.5V533.7M907.26 526.5V533.7M910.31 526.5V533.7M913.36 526.5V533.7M916.41 526.5V533.7M919.46 526.5V533.7M922.52 526.5V533.7M925.57 526.5V533.7M928.62 526.5V533.7M931.67 526.5V533.7M934.72 526.5V533.7M937.78 526.5V533.7M940.83 526.5V533.7M943.88 526.5V533.7M946.93 526.5V533.7M949.98 526.5V533.7M953.04 526.5V533.7M956.09 526.5V533.7M959.14 526.5V533.7M962.19 526.5V533.7M965.24 526.5V533.7M968.30 526.5V533.7M971.35 526.5V533.7M974.40 526.5V533.7M977.45 526.5V533.7M980.50 526.5V533.7M983.56 526.5V533.7M986.61 526.5V533.7M989.66 526.5V533.7M992.71 526.5V533.7M995.76 526.5V533.7M998.82 526.5V533.7M1001.87 526.5V533.7M1004.92 526.5V533.7M1007.97 526.5V533.7M1011.02 526.5V533.7M1014.08 526.5V533.7M1017.13 526.5V533.7M1020.18 526.5V533.7M1023.23 526.5V533.7M1026.28 526.5V533.7M1029.34 526.5V533.7M1032.39 526.5V533.7M1035.44 526.5V533.7M1038.49 526.5V533.7M1041.54 526.5V533.7M1044.60 526.5V533.7M1047.65 526.5V533.7M1050.70 526.5V533.7M1053.75 526.5V533.7M1056.80 526.5V533.7M1059.86 526.5V533.7M1062.91 526.5V533.7M1065.96 526.5V533.7M1069.01 526.5V533.7M1072.06 526.5V533.7M1075.12 526.5V533.7M1078.17 526.5V533.7M1081.22 526.5V533.7M1084.27 526.5V533.7M1087.32 526.5V533.7M1090.38 526.5V533.7M1093.43 526.5V533.7M1096.48 526.5V533.7M1099.53 526.5V533.7M1102.58 526.5V533.7M1105.64 526.5V533.7M1108.69 526.5V533.7M1111.74 526.5V533.7M1114.79 526.5V533.7M1117.84 526.5V533.7M1120.90 526.5V533.7M1123.95 526.5V533.7M1127.00 526.5V533.7M1130.05 526.5V533.7M1133.10 526.5V533.7M1136.16 526.5V533.7M1139.21 526.5V533.7M1142.26 526.5V533.7M1145.31 526.5V533.7M1148.36 526.5V533.7M1151.42 526.5V533.7M1154.47 526.5V533.7M1157.52 526.5V533.7M1160.57 526.5V533.7M1163.62 526.5V533.7M1166.68 526.5V533.7M1169.73 526.5V533.7" stroke="#000" stroke-width="1" fill="none"/>
<path d="M51.2 496.25H59.0M51.2 430.60H59.0M51.2 364.95H59.0M51.2 299.30H59.0M51.2 233.65H59.0M51.2 168.00H59.0M51.2 102.35H59.0" stroke="#000" stroke-width="1" fill="none"/>
<text transform="translate(41.6 496.25) rotate(-90)" text-anchor="middle" font-family="Liberation Sans" font-size="8.6" fill="#000">-25</text>
<text transform="translate(41.6 430.60) rotate(-90)" text-anchor="middle" font-family="Liberation Sans" font-size="8.6" fill="#000">-20</text>
<text transform="translate(41.6 364.95) rotate(-90)" text-anchor="middle" font-family="Liberation Sans" font-size="8.6" fill="#000">-15</text>
<text transform="translate(41.6 299.30) rotate(-90)" text-anchor="middle" font-family="Liberation Sans" font-size="8.6" fill="#000">-10</text>
<text transform="translate(41.6 233.65) rotate(-90)" text-anchor="middle" font-family="Liberation Sans" font-size="8.6" fill="#000">-5</text>
<text transform="translate(41.6 168.00) rotate(-90)" text-anchor="middle" font-family="Liberation Sans" font-size="8.6" fill="#000">0</text>
<text transform="translate(41.6 102.35) rotate(-90)" text-anchor="middle" font-family="Liberation Sans" font-size="8.6" fill="#000">5</text>
<text x="58.80" y="552" text-anchor="middle" font-family="Liberation Sans" font-size="8.6" letter-spacing="-0.3" fill="#000">sty 01</text>
<text x="89.32" y="552" text-anchor="middle" font-family="Liberation Sans" font-size="8.6" letter-spacing="-0.3" fill="#000">sty 11</text>
<text x="119.84" y="552" text-anchor="middle" font-family="Liberation Sans" font-size="8.6" letter-spacing="-0.3" fill="#000">sty 21</text>
<text x="150.36" y="552" text-anchor="middle" font-family="Liberation Sans" font-size="8.6" letter-spacing="-0.3" fill="#000">sty 31</text>
<text x="180.88" y="552" text-anchor="middle" font-family="Liberation Sans" font-size="8.6" letter-spacing="-0.3" fill="#000">lut 10</text>
<text x="211.40" y="552" text-anchor="middle" font-family="Liberation Sans" font-size="8.6" letter-spacing="-0.3" fill="#000">lut 20</text>
<text x="244.97" y="552" text-anchor="middle" font-family="Liberation Sans" font-size="8.6" letter-spacing="-0.3" fill="#000">mar 03</text>
<text x="281.60" y="552" text-anchor="middle" font-family="Liberation Sans" font-size="8.6" letter-spacing="-0.3" fill="#000">mar 15</text>
<text x="318.22" y="552" text-anchor="middle" font-family="Liberation Sans" font-size="8.6" letter-spacing="-0.3" fill="#000">mar 27</text>
<text x="351.79" y="552" text-anchor="middle" font-family="Liberation Sans" font-size="8.6" letter-spacing="-0.3" fill="#000">kwi 07</text>
<text x="385.36" y="552" text-anchor="middle" font-family="Liberation Sans" font-size="8.6" letter-spacing="-0.3" fill="#000">kwi 18</text>
<text x="418.94" y="552" text-anchor="middle" font-family="Liberation Sans" font-size="8.6" letter-spacing="-0.3" fill="#000">kwi 29</text>
<text x="452.51" y="552" text-anchor="middle" font-family="Liberation Sans" font-size="8.6" letter-spacing="-0.3" fill="#000">maj 10</text>
<text x="486.08" y="552" text-anchor="middle" font-family="Liberation Sans" font-size="8.6" letter-spacing="-0.3" fill="#000">maj 21</text>
<text x="519.65" y="552" text-anchor="middle" font-family="Liberation Sans" font-size="8.6" letter-spacing="-0.3" fill="#000">cze 01</text>
<text x="553.22" y="552" text-anchor="middle" font-family="Liberation Sans" font-size="8.6" letter-spacing="-0.3" fill="#000">cze 12</text>
<text x="586.80" y="552" text-anchor="middle" font-family="Liberation Sans" font-size="8.6" letter-spacing="-0.3" fill="#000">cze 23</text>
<text x="617.32" y="552" text-anchor="middle" font-family="Liberation Sans" font-size="8.6" letter-spacing="-0.3" fill="#000">lip 03</text>
<text x="647.84" y="552" text-anchor="middle" font-family="Liberation Sans" font-size="8.6" letter-spacing="-0.3" fill="#000">lip 13</text>
<text x="678.36" y="552" text-anchor="middle" font-family="Liberation Sans" font-size="8.6" letter-spacing="-0.3" fill="#000">lip 23</text>
<text x="708.88" y="552" text-anchor="middle" font-family="Liberation Sans" font-size="8.6" letter-spacing="-0.3" fill="#000">sie 02</text>
<text x="739.40" y="552" text-anchor="middle" font-family="Liberation Sans" font-size="8.6" letter-spacing="-0.3" fill="#000">sie 12</text>
<text x="769.92" y="552" text-anchor="middle" font-family="Liberation Sans" font-size="8.6" letter-spacing="-0.3" fill="#000">sie 22</text>
<text x="803.49" y="552" text-anchor="middle" font-family="Liberation Sans" font-size="8.6" letter-spacing="-0.3" fill="#000">wrz 02</text>
<text x="837.06" y="552" text-anchor="middle" font-family="Liberation Sans" font-size="8.6" letter-spacing="-0.3" fill="#000">wrz 13</text>
<text x="870.63" y="552" text-anchor="middle" font-family="Liberation Sans" font-size="8.6" letter-spacing="-0.3" fill="#000">wrz 24</text>
<text x="904.20" y="552" text-anchor="middle" font-family="Liberation Sans" font-size="8.6" letter-spacing="-0.3" fill="#000">paź 05</text>
<text x="937.78" y="552" text-anchor="middle" font-family="Liberation Sans" font-size="8.6" letter-spacing="-0.3" fill="#000">paź 16</text>
<text x="971.35" y="552" text-anchor="middle" font-family="Liberation Sans" font-size="8.6" letter-spacing="-0.3" fill="#000">paź 27</text>
<text x="1001.87" y="552" text-anchor="middle" font-family="Liberation Sans" font-size="8.6" letter-spacing="-0.3" fill="#000">lis 06</text>
<text x="1029.34" y="552" text-anchor="middle" font-family="Liberation Sans" font-size="8.6" letter-spacing="-0.3" fill="#000">lis 15</text>
<text x="1056.80" y="552" text-anchor="middle" font-family="Liberation Sans" font-size="8.6" letter-spacing="-0.3" fill="#000">lis 24</text>
<text x="1087.32" y="552" text-anchor="middle" font-family="Liberation Sans" font-size="8.6" letter-spacing="-0.3" fill="#000">gru 04</text>
<text x="1120.90" y="552" text-anchor="middle" font-family="Liberation Sans" font-size="8.6" letter-spacing="-0.3" fill="#000">gru 15</text>
<text x="1154.47" y="552" text-anchor="middle" font-family="Liberation Sans" font-size="8.6" letter-spacing="-0.3" fill="#000">gru 26</text>
<text x="614" y="581" text-anchor="middle" font-family="Liberation Sans" font-size="11.5" fill="#000">Data</text>
<text transform="translate(13.3 292.5) rotate(-90)" text-anchor="middle" font-family="Liberation Sans" font-size="12.2" fill="#000">Temperatura</text>
<text x="58.5" y="19" font-family="Liberation Mono" font-size="16.6" fill="#4a4a4a">Przebieg temperatury w roku 2025</text>
<text x="58.5" y="40" font-family="Liberation Mono" font-size="16.6" fill="#4a4a4a">Region: Morze Grenlandzkie</text>
<text x="1173.5" y="19" text-anchor="end" font-family="Liberation Mono" font-size="16.45" fill="#4a4a4a">Dane: Reanaliza ERA5 (ECMWF)</text>
<text x="1158.7" y="38" text-anchor="end" font-family="Liberation Mono" font-size="10" fill="#555">Wizualizacja: Meteomodel.pl</text>
<text x="613.4" y="52.8" text-anchor="middle" font-family="Liberation Mono" font-size="11.65" fill="#444">Ostatnie dane: 2025-11-16 (-6.1°C, anomalia (1981-2010): 0.9°C)</text>
</svg></body></html>
